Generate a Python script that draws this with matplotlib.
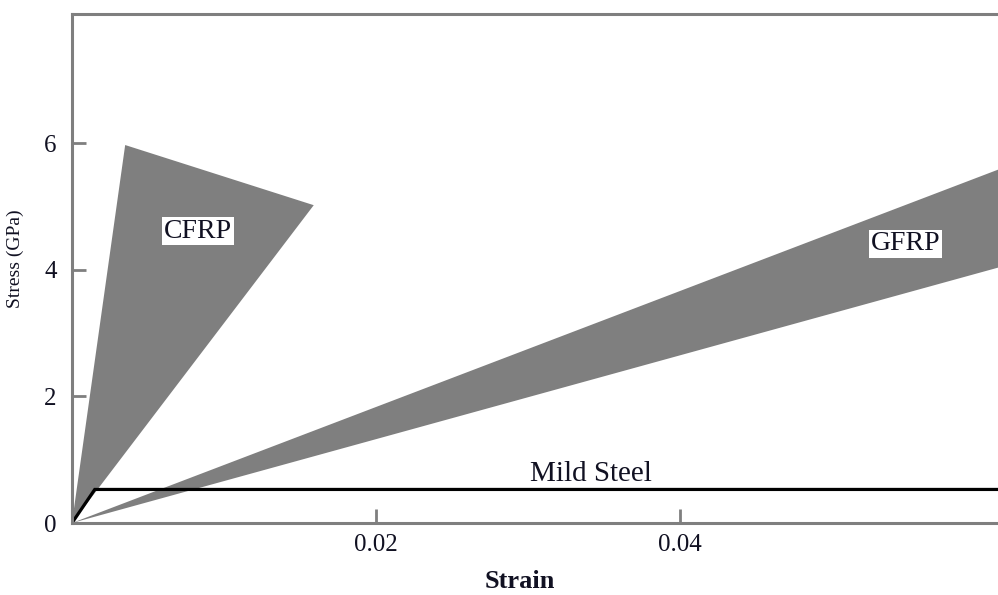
import matplotlib
matplotlib.use("Agg")
import matplotlib.pyplot as plt
from matplotlib.patches import Polygon

plt.rcParams["font.family"] = ["Liberation Serif", "DejaVu Serif"]

# Envelope vertices (strain, stress in GPa)
cfrp_strain = [0.0, 0.0035, 0.0159]
cfrp_stress = [0.0, 5.97, 5.02]

gfrp_strain = [0.0, 0.0610, 0.0610]
gfrp_stress = [0.0, 5.59, 4.04]

steel_strain = [0.0, 0.0015, 0.0610]
steel_stress = [0.0, 0.53, 0.53]

x_ticks = [0.02, 0.04]
y_ticks = [0, 2, 4, 6]

fig = plt.figure(figsize=(9.98, 5.95), dpi=100)
ax = fig.add_axes([0.0721, 0.121, 0.9279, 0.8555])

gray = "#7f7f7f"
ax.add_patch(Polygon(list(zip(cfrp_strain, cfrp_stress)), closed=True,
                     facecolor=gray, edgecolor="none"))
ax.add_patch(Polygon(list(zip(gfrp_strain, gfrp_stress)), closed=True,
                     facecolor=gray, edgecolor="none"))
ax.plot(steel_strain, steel_stress, color="black", lw=2.3, solid_joinstyle="miter")

ax.text(0.0083, 4.61, "CFRP", fontsize=20, ha="center", va="center", color="#111122",
        bbox=dict(facecolor="white", edgecolor="none", pad=1.2))
ax.text(0.0548, 4.41, "GFRP", fontsize=20, ha="center", va="center", color="#111122",
        bbox=dict(facecolor="white", edgecolor="none", pad=1.2))
ax.text(0.0341, 0.77, "Mild Steel", fontsize=21, ha="center", va="center", color="#111122")

ax.set_xlim(0, 0.0609)
ax.set_ylim(0, 8.04)
ax.set_xticks(x_ticks)
ax.set_xticklabels(["0.02", "0.04"])
ax.set_yticks(y_ticks)
ax.set_yticklabels([str(v) for v in y_ticks])

for side in ["left", "top", "bottom"]:
    ax.spines[side].set_color(gray)
    ax.spines[side].set_linewidth(2.2)
ax.spines["right"].set_visible(False)

ax.tick_params(axis="both", direction="in", length=10, width=2, color=gray,
               labelsize=18, labelcolor="#111122")
ax.tick_params(axis="y", pad=11)
ax.tick_params(axis="x", pad=8)

ax.set_xlabel("Strain", fontsize=19, fontweight="bold", color="#111122")
ax.xaxis.set_label_coords(0.484, -0.092)
ax.set_ylabel("Stress (GPa)", fontsize=14, color="#111122")
ax.yaxis.set_label_coords(-0.052, 0.52)

fig.savefig("out.png", dpi=100)
